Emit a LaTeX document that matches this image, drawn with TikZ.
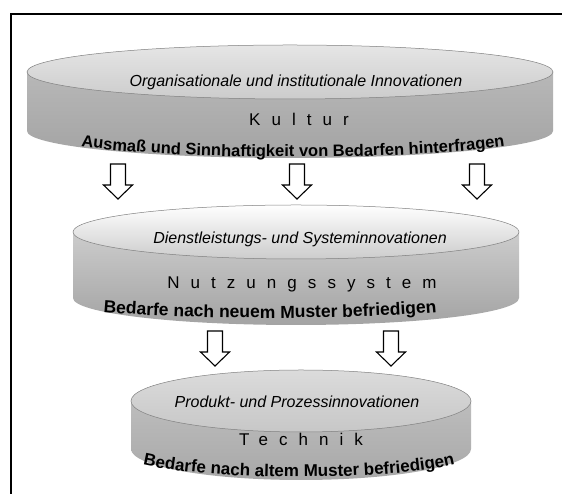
\documentclass[tikz,border=0pt]{standalone}
\usepackage{fontspec}
\setmainfont{Liberation Sans}
\newfontfamily\spacedfont[LetterSpace=65]{Liberation Sans}
\usetikzlibrary{math,decorations.text}

% cx, cy, rx, ry, height, face top/bottom, side top/bottom
\newcommand{\drawdisc}[9]{%
  \shade[top color=#8,bottom color=#9] (#1-#3,#2) -- (#1-#3,#2-#5)
    arc[start angle=180,end angle=360,x radius=#3,y radius=#4] -- (#1+#3,#2) -- cycle;
  \shade[top color=#6,bottom color=#7,draw=black!50,line width=0.5pt] (#1,#2) ellipse[x radius=#3,y radius=#4];
}

\begin{document}
\begin{tikzpicture}[x=1pt,y=1pt,
    innov/.style={font=\itshape\fontsize{16}{19}\selectfont},
    layer/.style={font=\spacedfont\fontsize{17}{20}\selectfont,inner sep=1pt},
    downarrow/.pic={\draw[line width=1.1pt,fill=white,line join=miter]
      (-7.5,0) -- (7.5,0) -- (7.5,-21) -- (14.5,-21) -- (0,-35) -- (-14.5,-21) -- (-7.5,-21) -- cycle;}]
  \useasboundingbox (0,0) rectangle (562,494);
  \draw[line width=2.8pt] (11,-10) -- (11,480) -- (572,480);

  \drawdisc{290}{422}{263}{27}{59}{black!10}{black!20}{black!28}{black!36}
  \drawdisc{296}{262}{223}{27}{66}{white}{black!20}{black!20}{black!36}
  \drawdisc{301}{93}{170}{31}{48}{black!14}{black!22}{black!26}{black!34}

  \node[innov] (orgInnov) at (296,412) {Organisationale und institutionale Innovationen};
  \node[layer] (kultur) at (299,375) {Kultur};
  \path[decorate,decoration={text along path,text align=center,
      text={|\bfseries\fontsize{16.5}{16.5}\selectfont|Ausmaß und Sinnhaftigkeit von Bedarfen hinterfragen}}]
    (45.4,356.4) arc[start angle=188,end angle=352,x radius=250,y radius=22.5];

  \node[innov] (sysInnov) at (300,255) {Dienstleistungs- und Systeminnovationen};
  \node[layer] (nutzung) at (302,210) {Nutzungssystem};
  \path[decorate,decoration={text along path,text align=center,
      text={|\bfseries\fontsize{17.5}{17.5}\selectfont|Bedarfe nach neuem Muster befriedigen}}]
    (43.5,191.5) arc[start angle=190,end angle=350,x radius=230,y radius=18.8];

  \node[innov] (prodInnov) at (297,92) {Produkt- und Prozessinnovationen};
  \node[layer] (technik) at (301,55) {Technik};
  \path[decorate,decoration={text along path,text align=center,
      text={|\bfseries\fontsize{17}{17}\selectfont|Bedarfe nach altem Muster befriedigen}}]
    (125.1,35.5) arc[start angle=195,end angle=345,x radius=180,y radius=24.9];

  \foreach \x in {118,297,477} \pic at (\x,330) {downarrow};
  \foreach \x in {215,391} \pic at (\x,163) {downarrow};
\end{tikzpicture}
\end{document}
